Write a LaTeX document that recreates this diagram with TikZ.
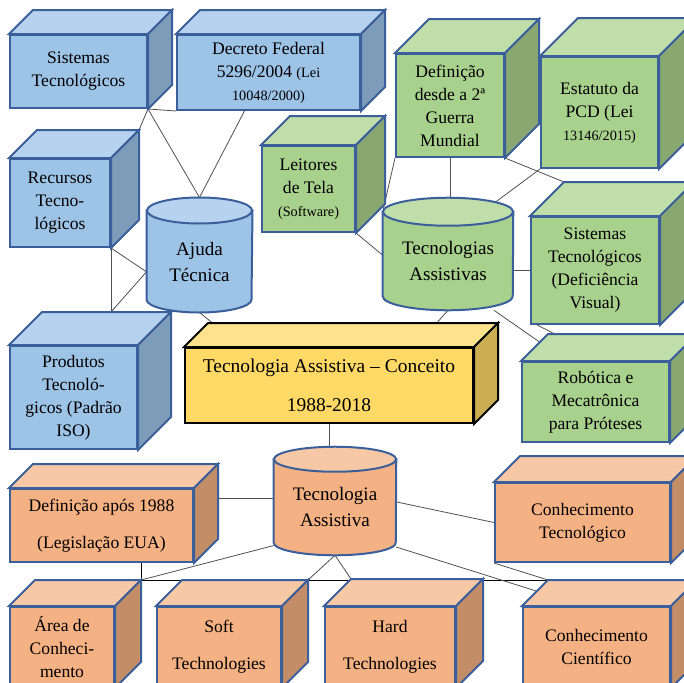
\documentclass[tikz,border=0pt]{standalone}
\usepackage{fontspec}
\setmainfont{Liberation Serif}
\usetikzlibrary{calc}

\definecolor{edgeblue}{RGB}{59,95,155}
\definecolor{bluefront}{RGB}{157,195,230}
\definecolor{bluetop}{RGB}{182,210,238}
\definecolor{blueside}{RGB}{125,156,186}
\definecolor{greenfront}{RGB}{169,209,142}
\definecolor{greentop}{RGB}{192,222,170}
\definecolor{greenside}{RGB}{136,167,113}
\definecolor{yellowfront}{RGB}{255,217,102}
\definecolor{yellowtop}{RGB}{255,226,140}
\definecolor{yellowside}{RGB}{204,174,82}
\definecolor{orangefront}{RGB}{244,177,131}
\definecolor{orangetop}{RGB}{247,200,166}
\definecolor{orangeside}{RGB}{195,141,104}
\definecolor{linkgrey}{RGB}{80,80,80}

\newcommand{\boxfont}{\fontsize{13.2}{17.25}\selectfont}
\newcommand{\smallfont}{\fontsize{10.7}{17.25}\selectfont}
\newcommand{\drumfont}{\fontsize{14.3}{19.5}\selectfont}

\pgfdeclarelayer{links}
\pgfdeclarelayer{faces}
\pgfsetlayers{links,faces,main}

\tikzset{every picture/.style={line width=0.75pt}}
\tikzset{
  dims/.style 2 args={minimum width=#1*0.75pt, minimum height=#2*0.75pt},
  cube/.style={draw=edgeblue, line width=1.5pt, fill=#1, inner sep=0pt, align=center, font=\boxfont},
  wide/.style={font=\fontsize{13.2}{28}\selectfont},
  drum/.style={inner sep=0pt, align=center, font=\drumfont},
  link/.style={draw=linkgrey, line width=0.6pt},
}

% top and side faces of a box node: [edge]{node}{depth}{top}{side}
\newcommand{\cubefaces}[5][edgeblue]{%
  \draw[draw=#1, line width=1.5pt, fill=#4] (#2.north west) -- ++(#3,-#3) coordinate (#2-tl)
    -- ($(#2.north east)+(#3,-#3)$) coordinate (#2-tr) -- (#2.north east) -- cycle;
  \draw[draw=#1, line width=1.5pt, fill=#5] (#2.north east) -- (#2-tr)
    -- ($(#2.south east)+(#3,-#3)$) -- (#2.south east) -- cycle;
}
% body and lid of a cylinder node: {node}{x radius}{y radius}{body}{lid}
\newcommand{\drumfaces}[5]{%
  \begin{pgfonlayer}{faces}
  \draw[draw=edgeblue, line width=1.5pt, fill=#4] (#1.north west) -- ($(#1.south west)+(0,-#3)$)
    arc[start angle=180, end angle=0, x radius=#2, y radius=#3] -- (#1.north east) -- cycle;
  \draw[draw=edgeblue, line width=1.5pt, fill=#5] (#1.north) ellipse[x radius=#2, y radius=#3];
  \end{pgfonlayer}
  \coordinate (#1-top) at ($(#1.north)+(0,-#3)$);
}

\begin{document}
\begin{tikzpicture}[x=0.75pt,y=0.75pt,yscale=-1,xscale=1]
\useasboundingbox (0,0) rectangle (684,682);
\clip (0,0) rectangle (684,682);

%Shape: Cube [blue]
\node[cube=bluefront, dims={137}{73}] (sistec) at (78.5,71.5) {Sistemas\\Tecnológicos};
\cubefaces{sistec}{24}{bluetop}{blueside}
%Shape: Cube [blue]
\node[cube=bluefront, dims={183}{75}] (decreto) at (268.5,72.5) {Decreto Federal\\5296/2004 {\smallfont(Lei}\\{\smallfont 10048/2000)}};
\cubefaces{decreto}{24}{bluetop}{blueside}
%Shape: Cube [blue]
\node[cube=bluefront, dims={100}{88}] (rectec) at (60,203) {Recursos\\Tecno-\\lógicos};
\cubefaces{rectec}{28}{bluetop}{blueside}
%Shape: Cube [blue]
\node[cube=bluefront, dims={127}{103}] (prodtec) at (73.5,397.5) {Produtos\\Tecnoló-\\gicos (Padrão\\ISO)};
\cubefaces{prodtec}{33}{bluetop}{blueside}
%Shape: Can [blue]
\node[drum, dims={105}{101}] (ajuda) at (199.5,261.5) {Ajuda\\Técnica};
\drumfaces{ajuda}{52.5}{13}{bluefront}{bluetop}

%Shape: Cube [green]
\node[cube=greenfront, dims={93}{86}] (leitores) at (308.5,189) {Leitores\\de Tela\\{\smallfont(Software)}};
\cubefaces{leitores}{29}{greentop}{greenside}
%Shape: Cube [green]
\node[cube=greenfront, dims={108}{103}] (guerra) at (450,105.5) {Definição\\desde a 2ª\\Guerra\\Mundial};
\cubefaces{guerra}{34}{greentop}{greenside}
%Shape: Cube [green]
\node[cube=greenfront, dims={117}{111}] (estatuto) at (599.5,112.5) {Estatuto da\\PCD (Lei\\{\smallfont 13146/2015)}};
\cubefaces{estatuto}{38}{greentop}{greenside}
%Shape: Can [green]
\node[drum, dims={130}{98}] (tecass) at (448,261) {Tecnologias\\Assistivas};
\drumfaces{tecass}{65}{14}{greenfront}{greentop}
%Shape: Cube [green]
\node[cube=greenfront, dims={128}{107}] (sisvis) at (595,270.5) {Sistemas\\Tecnológicos\\(Deficiência\\Visual)};
\cubefaces{sisvis}{34}{greentop}{greenside}
%Shape: Cube [green]
\node[cube=greenfront, dims={147}{80}] (robotica) at (595.5,402) {Robótica e\\Mecatrônica\\para Próteses};
\cubefaces{robotica}{27}{greentop}{greenside}

%Shape: Cube [yellow]
\node[cube=yellowfront, draw=black, dims={288}{75}, font=\fontsize{14.6}{29}\selectfont] (conceito) at (329,385.5) {Tecnologia Assistiva \textendash\ Conceito\\1988-2018};
\cubefaces[black]{conceito}{24}{yellowtop}{yellowside}

%Shape: Can [orange]
\node[drum, dims={122}{95.5}] (tecnologia) at (335,507.25) {Tecnologia\\Assistiva};
\drumfaces{tecnologia}{61}{12.5}{orangefront}{orangetop}
%Shape: Cube [orange]
\node[cube=orangefront, wide, dims={183}{73}] (defeua) at (101.5,525.5) {Definição após 1988\\(Legislação EUA)};
\cubefaces{defeua}{24}{orangetop}{orangeside}
%Shape: Cube [orange]
\node[cube=orangefront, dims={175}{79}] (contec) at (582.5,522.5) {Conhecimento\\Tecnológico};
\cubefaces{contec}{26}{orangetop}{orangeside}
%Shape: Cube [orange]
\node[cube=orangefront, dims={104}{80}] (area) at (62,647) {Área de\\Conheci-\\mento};
\cubefaces{area}{26}{orangetop}{orangeside}
%Shape: Cube [orange]
\node[cube=orangefront, wide, dims={124}{80}] (soft) at (219,647) {Soft\\Technologies};
\cubefaces{soft}{26}{orangetop}{orangeside}
%Shape: Cube [orange]
\node[cube=orangefront, wide, dims={130}{80}] (hard) at (390,647) {Hard\\Technologies};
\cubefaces{hard}{27}{orangetop}{orangeside}
%Shape: Cube [orange]
\node[cube=orangefront, dims={147}{80}] (concien) at (596.5,647) {Conhecimento\\Científico};
\cubefaces{concien}{26}{orangetop}{orangeside}

\begin{pgfonlayer}{links}
%Straight Lines
\draw[link] (sistec.south east) -- (decreto.south west);
\draw[link] (sistec.south east) -- (rectec-tr);
\draw[link] (sistec.south east) -- (ajuda-top);
\draw[link] (decreto.238) -- (ajuda-top);
\draw[link] (rectec.south east) -- (ajuda.191);
\draw[link] (rectec.south east) -- (rectec.south east |- prodtec-tl);
\draw[link] (ajuda.191) -- (rectec.south east |- prodtec-tl);
\draw[link] (ajuda.south) -- (conceito.156);
%Straight Lines
\draw[link] (leitores.south east) -- (tecass.175);
\draw[link] (guerra.south west) -- (tecass.north west);
\draw[link] (guerra.south) -- (guerra.south |- tecass-top);
\draw[link] (guerra.south east) -- (sisvis-tl);
\draw[link] (estatuto.south west) -- (tecass.201);
\draw[link] (tecass.east |- sisvis.west) -- (sisvis.west);
\draw[link] (tecass.south) -- (conceito.24);
\draw[link] (tecass.-47) -- (robotica.125);
\draw[link] (sisvis.218) -- (robotica.74);
%Straight Lines
\draw[link] (conceito.south) -- (conceito.south |- tecnologia-top);
\draw[link] (tecnologia.172) -- (tecnologia.172 -| defeua.east);
\draw[link] (tecnologia.5) -- (contec.west);
\draw[link, draw=black] (area-tr |- defeua.south) -- (area-tr) -- (concien-tl);
\draw[link] (tecnologia.212) -- (area-tr);
\draw[link] (tecnologia.south) -- (soft-tr);
\draw[link] (tecnologia.south) -- (hard-tl);
\draw[link] (tecnologia.-33) -- (concien.107);
\draw[link] (contec.south west) -- (concien-tl);
\end{pgfonlayer}

\end{tikzpicture}
\end{document}
